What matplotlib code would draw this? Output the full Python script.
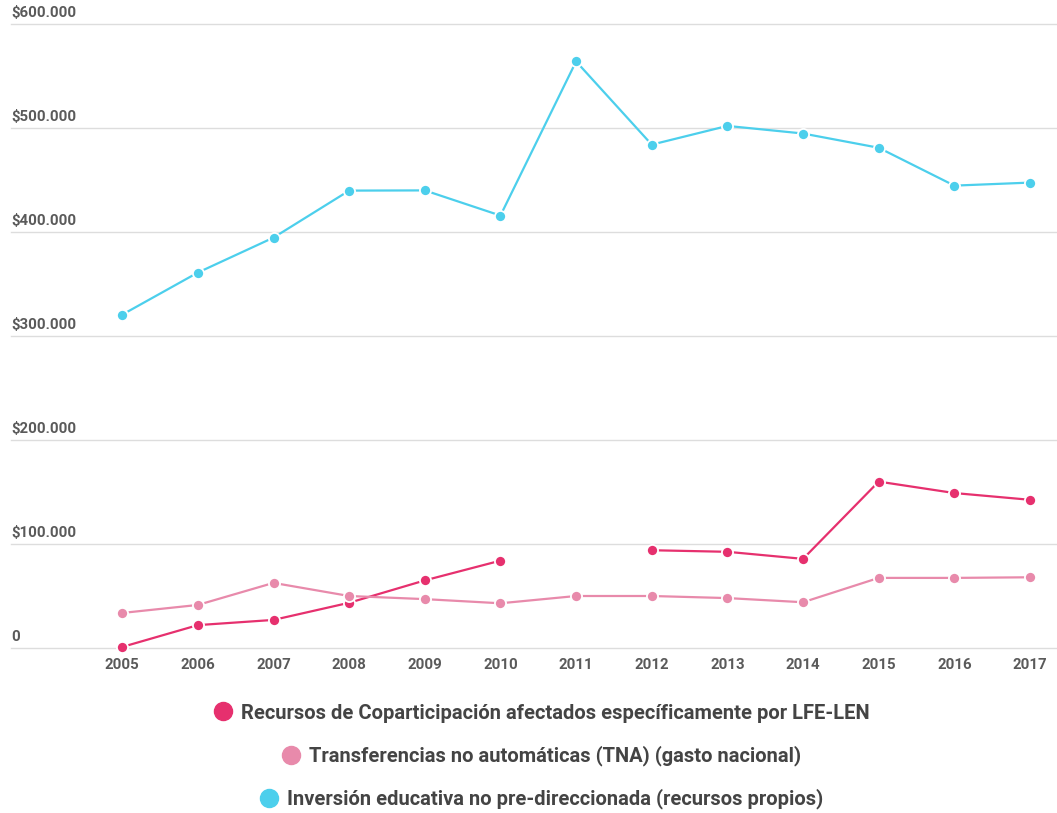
import numpy as np
import matplotlib
matplotlib.use("Agg")
import matplotlib.pyplot as plt
from matplotlib.lines import Line2D

plt.rcParams['font.family'] = ['Roboto', 'DejaVu Sans']

years = [2005, 2006, 2007, 2008, 2009, 2010, 2011, 2012, 2013, 2014, 2015, 2016, 2017]
copart = [1000, 22000, 27000, 43500, 65000, 84000, np.nan, 94000, 92500, 85700, 160000, 149000, 142500]
tna = [33700, 41400, 62600, 50000, 47000, 43000, 50000, 50000, 48000, 44000, 67400, 67400, 68000]
inversion = [320500, 361000, 394600, 439800, 440000, 415800, 564000, 484000, 502000, 494700, 481000, 444600, 447500]

names = ["Recursos de Coparticipación afectados específicamente por LFE-LEN",
         "Transferencias no automáticas (TNA) (gasto nacional)",
         "Inversión educativa no pre-direccionada (recursos propios)"]
colors = ["#e6306e", "#e88aab", "#4ccfec"]
yticks = [0, 100000, 200000, 300000, 400000, 500000, 600000]
ytick_labels = ["0", "$100.000", "$200.000", "$300.000", "$400.000", "$500.000", "$600.000"]

W, H = 1057, 813
fig = plt.figure(figsize=(W / 100, H / 100), dpi=100)
ax = fig.add_axes([11 / W, 1 - 648 / H, 1 - 11 / W, (648 - 24) / H])

series = [copart, tna, inversion]
for vals, c in zip(series, colors):
    ax.plot(years, vals, color=c, lw=1.6, marker='o', markersize=8,
            markerfacecolor=c, markeredgecolor='white', markeredgewidth=1.3,
            clip_on=False, zorder=3)

ax.set_xlim(2003.53, 2017.357)
ax.set_ylim(0, 600000)
ax.set_yticks(yticks)
ax.set_yticklabels([])
for v, lab in zip(yticks, ytick_labels):
    ax.text(0.0, v + 4000, lab, transform=ax.get_yaxis_transform(), ha='left', va='bottom',
            fontsize=10.8, fontweight='bold', color='#5a5a5a')
    ax.axhline(v, color='#dddddd', lw=1.0, zorder=1, clip_on=False)
ax.set_xticks(years)
ax.set_xticklabels([str(y) for y in years], fontsize=10.8, fontweight='bold', color='#5a5a5a')
ax.tick_params(axis='x', length=0, pad=7)
ax.tick_params(axis='y', length=0)
for s in ax.spines.values():
    s.set_visible(False)
ax.grid(False)

leg_y = [713, 756, 799]
for name, c, yy in zip(names, colors, leg_y):
    h = Line2D([], [], marker='o', color='none', markerfacecolor=c, markeredgecolor=c,
               markersize=13)
    lg = fig.legend([h], [name], loc='center', bbox_to_anchor=(540 / W, 1 - yy / H),
                    frameon=False, handletextpad=0.3, handlelength=1.2,
                    prop={'family': 'Roboto', 'weight': 'bold', 'size': 14.5})
    for t in lg.get_texts():
        t.set_color('#444444')

fig.savefig("out.png", dpi=100)
